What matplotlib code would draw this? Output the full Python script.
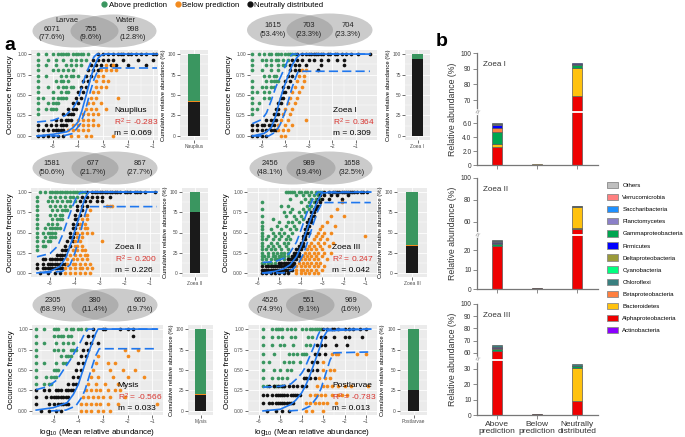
import numpy as np
import matplotlib.pyplot as plt
from matplotlib.patches import Ellipse, Patch
from matplotlib.lines import Line2D

plt.rcParams['font.family'] = ['Liberation Sans', 'DejaVu Sans']
plt.rcParams['mathtext.fontset'] = 'custom'
plt.rcParams['mathtext.rm'] = 'Liberation Sans'
plt.rcParams['mathtext.it'] = 'Liberation Sans:italic'

W, H = 685, 437
GREEN, ORANGE, BLACK, BLUE, RED = '#3A9660', '#F28A1E', '#111111', '#1F77EE', '#D8332E'

# ---- panel a data: occurrence level (count) -> log10 mean abundance values ----
stages = ['Nauplius', 'Zoea I', 'Zoea II', 'Zoea III', 'Mysis', 'Postlarvae']
n_samples = [15, 15, 18, 24, 12, 10]
r2_vals = ['-0.283', '0.364', '0.200', '0.247', '-0.566', '-0.783']
m_vals = ['0.069', '0.309', '0.226', '0.042', '0.033', '0.013']

naup_above = {15: [-5.6, -5.3, -5.0, -4.8, -4.7, -4.6, -4.5, -4.4, -4.2, -4.1, -4.0, -3.9, -3.8, -3.6],
              14: [-5.6, -5.2, -4.9, -4.6, -4.3, -4.1, -3.9, -3.7], 13: [-5.6, -5.3, -4.9, -4.5, -4.3, -4.1, -3.9],
              12: [-5.6, -5.0, -4.8, -4.6, -4.4, -4.2], 11: [-5.6, -5.3, -4.7, -4.5, -4.3, -4.2, -4.0],
              10: [-5.6, -4.9, -4.7, -4.6, -4.4], 9: [-5.6, -5.2, -4.8, -4.6, -4.5, -4.3, -4.2],
              8: [-5.6, -5.0, -4.7, -4.5, -4.4], 7: [-5.6, -5.4, -5.0, -4.8, -4.7, -4.6, -4.5],
              6: [-5.6, -5.2, -5.0, -4.9, -4.8], 5: [-5.6, -5.3, -5.1, -5.0, -4.9], 4: [-5.6]}
naup_neutral = {15: [-3.2, -3.0, -2.8, -2.6, -2.4, -2.3, -2.2, -2.0, -1.9, -1.7, -1.5, -1.3, -1.0, -0.9],
                14: [-3.4, -3.2, -3.0, -2.8, -2.6, -2.2, -1.6, -1.0], 13: [-3.5, -3.3, -3.1, -2.7, -2.5, -2.0, -1.3],
                12: [-3.6, -3.4, -3.2], 11: [-3.7, -3.5], 10: [-3.8, -3.6], 9: [-3.9, -3.7], 8: [-4.0, -3.8],
                7: [-4.1, -3.9], 6: [-4.2, -4.0], 5: [-4.4, -4.2, -4.1], 4: [-4.6, -4.4, -4.3, -4.2],
                3: [-4.9, -4.7, -4.5, -4.4, -4.3], 2: [-5.6, -5.3, -5.1, -4.9, -4.7, -4.6, -4.5],
                1: [-5.6, -5.4, -5.2, -5.0, -4.9, -4.8, -4.7, -4.6], 0: [-5.6, -5.4, -5.2, -5.0, -4.8, -4.6]}
naup_below = {13: [-2.9, -2.6], 12: [-3.1, -2.9, -2.7, -2.5], 11: [-3.2, -3.0], 10: [-3.3, -3.0, -2.8],
              9: [-3.3, -3.1, -2.9], 8: [-3.4, -3.2], 7: [-3.5, -3.3, -2.4], 6: [-3.6, -3.4, -3.1],
              5: [-3.7, -3.5, -3.3, -2.9], 4: [-3.8, -3.6, -3.4, -3.2], 3: [-4.0, -3.8, -3.6, -3.4],
              2: [-4.2, -4.0, -3.8, -3.6, -3.4, -3.2], 1: [-4.4, -4.2, -4.0, -3.8, -3.6], 0: [-4.3, -4.0, -3.7, -3.5, -2.6]}

z1_above = {15: [-5.4, -5.1, -4.9, -4.7, -4.6, -4.4, -4.3, -4.2, -4.0, -3.9, -3.8, -3.7, -3.6],
            14: [-5.4, -5.0, -4.8, -4.6, -4.4, -4.3, -4.1, -3.9], 13: [-5.4, -4.8, -4.6, -4.3, -4.1, -4.0],
            12: [-5.4, -5.0, -4.6, -4.3], 11: [-4.9, -4.7, -4.5, -4.4], 10: [-5.4, -4.8, -4.6, -4.5, -4.4, -4.3],
            9: [-5.4, -5.0, -4.8, -4.6, -4.5], 8: [-5.4, -5.2, -4.9, -4.7], 7: [-5.4, -4.9, -4.7],
            6: [-5.4, -5.1], 5: [-5.4, -5.2], 4: [-5.4]}
z1_neutral = {15: [-3.5, -3.3, -3.1, -3.0, -2.9, -2.8, -2.7, -2.6, -2.5, -2.4, -2.2, -2.1, -1.9, -1.8, -1.6, -1.4, -1.2, -0.9, -0.4],
              14: [-3.7, -3.5, -3.3, -3.0, -2.8, -2.5, -2.2, -1.8, -1.5], 13: [-3.8, -3.6, -3.4, -3.1, -2.5, -1.5],
              12: [-3.8, -3.6, -3.4, -2.6], 11: [-3.9, -3.7], 10: [-4.0, -3.8], 9: [-4.1, -3.9], 8: [-4.1, -4.0],
              7: [-4.2, -4.1], 6: [-4.3, -4.2], 5: [-4.4, -4.3], 4: [-4.5, -4.4, -4.3], 3: [-4.8, -4.6, -4.5, -4.4],
              2: [-5.4, -5.2, -5.0, -4.9, -4.7, -4.6, -4.5], 1: [-5.4, -5.2, -5.0, -4.8, -4.6, -4.5, -4.4],
              0: [-5.4, -5.2, -5.0, -4.8]}
z1_below = {12: [-3.3, -3.1], 11: [-3.4, -3.2], 10: [-3.5, -3.2], 9: [-3.6, -3.3], 8: [-3.7, -3.4],
            7: [-3.8, -3.5], 6: [-3.9, -3.6], 5: [-4.0, -3.7], 4: [-4.1, -3.8], 3: [-4.2, -3.9, -3.1],
            2: [-4.3, -4.0, -3.7], 1: [-4.3, -4.1, -3.9], 0: [-4.2, -4.0]}

z2_above = {18: [-5.4, -5.2, -5.0, -4.9, -4.8, -4.7, -4.6, -4.5, -4.4, -4.3, -4.2, -4.1, -4.0, -3.9, -3.8, -3.7, -3.6],
            17: [-5.52, -5.0, -4.8, -4.6, -4.4, -4.2, -4.1, -3.9], 16: [-5.52, -5.1, -4.9, -4.7, -4.5, -4.3, -4.2, -4.0],
            15: [-5.52, -5.0, -4.8, -4.6, -4.4, -4.2], 14: [-5.52, -4.9, -4.7, -4.5, -4.4, -4.3],
            13: [-5.52, -5.0, -4.8, -4.6, -4.5], 12: [-5.52, -4.9, -4.7, -4.6, -4.5], 11: [-5.52, -5.1, -4.9, -4.7],
            10: [-5.52, -5.2, -5.0, -4.9, -4.8, -4.7, -4.6], 9: [-5.52, -5.3, -5.1, -5.0, -4.9, -4.8],
            8: [-5.52, -5.2, -5.0, -4.9, -4.8], 7: [-5.52, -5.3, -5.1, -5.0], 6: [-5.52, -5.3, -5.2], 5: [-5.52]}
z2_neutral = {18: [-3.5, -3.3, -3.2, -3.1, -3.0, -2.9, -2.8, -2.7, -2.6, -2.5, -2.4, -2.3, -2.2, -2.0, -1.9, -1.8, -1.6, -1.5, -1.4, -1.2, -0.8],
              17: [-3.7, -3.5, -3.3, -3.1, -2.9, -2.6], 16: [-3.8, -3.6, -3.4, -3.1, -2.9], 15: [-3.9, -3.7, -3.5],
              14: [-3.9, -3.7], 13: [-4.0, -3.8], 12: [-4.0, -3.9], 11: [-4.1, -3.9], 10: [-4.1, -4.0],
              9: [-4.2, -4.0], 8: [-4.2, -4.1], 7: [-4.3, -4.1], 6: [-4.4, -4.2], 5: [-4.5, -4.4, -4.3],
              4: [-4.7, -4.6, -4.5, -4.4], 3: [-5.3, -5.2, -5.0, -4.9, -4.8, -4.7, -4.6, -4.5],
              2: [-5.52, -5.3, -5.1, -5.0, -4.9, -4.8, -4.7, -4.6, -4.5, -4.4],
              1: [-5.52, -5.3, -5.2, -5.1, -5.0, -4.9, -4.8, -4.7, -4.6, -4.5], 0: [-5.4, -5.1, -4.8, -4.6]}
z2_below = {15: [-2.7, -2.6, -2.5], 14: [-3.4], 13: [-3.6, -3.5], 12: [-3.7, -3.5], 11: [-3.8, -3.6],
            10: [-3.8, -3.6, -3.5], 9: [-3.9, -3.7, -3.5, -3.3], 8: [-3.9, -3.7], 7: [-4.0, -3.8, -2.9],
            6: [-4.0, -3.9, -3.7], 5: [-4.1, -3.9, -3.7, -3.6], 4: [-4.2, -4.0, -3.8, -3.6, -3.5],
            3: [-4.3, -4.1, -3.9, -3.7, -3.5], 2: [-4.3, -4.1, -4.0, -3.8, -3.6, -3.4],
            1: [-4.4, -4.2, -4.0, -3.8, -3.7, -3.5, -3.3], 0: [-4.4, -4.2, -4.0, -3.8, -3.6, -3.4]}

z3_above = {24: [-4.7, -4.6, -4.5, -4.4, -4.3, -4.1, -4.0, -3.8, -3.7, -3.5, -3.3, -3.2, -3.1, -3.0],
            23: [-4.2, -3.9, -3.6, -3.4, -3.2], 22: [-4.5, -3.8, -3.5, -3.3, -3.1], 21: [-5.8, -4.0, -3.6, -3.4],
            20: [-4.9, -4.6, -3.7, -3.5], 19: [-5.8, -4.4, -3.9, -3.6], 18: [-4.8, -4.5, -4.1, -3.8],
            17: [-5.8, -4.7, -4.3, -4.0], 16: [-5.3, -4.2, -3.9], 15: [-5.8, -5.0, -4.6, -4.4, -4.1],
            14: [-5.8, -5.1, -4.7, -4.3], 13: [-5.8, -5.4, -4.9, -4.5, -4.2], 12: [-5.8, -5.3, -5.0, -4.8, -4.4],
            11: [-5.8, -5.5, -5.2, -4.9, -4.6], 10: [-5.8, -5.6, -5.3, -5.0, -4.7, -4.5],
            9: [-5.8, -5.4, -5.1, -4.8, -4.6], 8: [-5.8, -5.5, -5.3, -5.0, -4.7],
            7: [-5.8, -5.6, -5.4, -5.2, -4.9, -4.6], 6: [-5.8, -5.5, -5.3, -5.1, -4.9, -4.8, -4.6],
            5: [-5.8, -5.7, -5.5, -5.3, -5.2, -5.0, -4.9, -4.8, -4.6], 4: [-5.8, -5.6, -5.4, -5.2, -5.1, -5.0, -4.8],
            3: [-5.8, -5.7, -5.5, -5.4, -5.2]}
z3_neutral = {24: [-2.9, -2.7, -2.5, -2.4, -2.3, -2.2, -2.1, -2.0, -1.9, -1.8, -1.7, -1.6, -1.5, -1.4, -1.2, -1.1, -0.9],
              23: [-3.1, -2.9, -2.6, -2.3, -1.8], 22: [-3.2, -3.0, -2.7, -2.1], 21: [-3.3, -3.1], 20: [-3.3, -3.2],
              19: [-3.4, -3.3], 18: [-3.5, -3.4], 17: [-3.5, -3.4], 16: [-3.6, -3.5], 15: [-3.7, -3.5],
              14: [-3.7, -3.6], 13: [-3.8, -3.7], 12: [-3.8, -3.7, -3.6], 11: [-3.9, -3.8], 10: [-3.9, -3.8],
              9: [-4.0, -3.9], 8: [-4.1, -4.0, -3.9], 7: [-4.2, -4.1, -4.0], 6: [-4.3, -4.2, -4.1],
              5: [-4.4, -4.3, -4.2, -4.1], 4: [-4.6, -4.5, -4.4, -4.3, -4.2],
              3: [-5.0, -4.9, -4.8, -4.7, -4.6, -4.5, -4.4, -4.3],
              2: [-5.8, -5.6, -5.5, -5.4, -5.3, -5.2, -5.1, -5.0, -4.9, -4.8, -4.7, -4.6, -4.5, -4.4, -4.3],
              1: [-5.8, -5.7, -5.6, -5.5, -5.4, -5.3, -5.2, -5.1, -5.0, -4.9, -4.8, -4.7, -4.6, -4.5, -4.4],
              0: [-5.8, -5.6, -5.4, -5.2, -5.0, -4.8, -4.6]}
z3_below = {21: [-2.1], 19: [-2.3], 17: [-2.6, -2.0], 15: [-2.8], 14: [-3.0, -2.4], 13: [-3.1],
            12: [-3.2, -2.9, -2.6], 11: [-3.3, -3.0, -1.0], 10: [-3.4, -3.1, -2.8], 9: [-3.5, -3.2, -2.9, -2.5],
            8: [-3.6, -3.4, -3.1, -2.7], 7: [-3.7, -3.5, -3.3, -3.0], 6: [-3.8, -3.6, -3.4, -3.2, -2.9, -2.6],
            5: [-3.9, -3.7, -3.5, -3.3, -3.0], 4: [-4.0, -3.8, -3.6, -3.4, -3.2, -2.8],
            3: [-4.1, -3.9, -3.7, -3.5, -3.3, -3.1], 2: [-4.2, -4.0, -3.8, -3.6, -3.4, -3.2, -2.9],
            1: [-4.2, -4.0, -3.9, -3.7, -3.5, -3.3, -3.0], 0: [-4.2, -4.0, -3.8, -3.6, -3.4, -3.2]}

mys_above = {12: [-5.7, -5.4, -5.0, -4.9, -4.8, -4.5, -4.3, -4.2, -4.0, -3.9, -3.7],
             11: [-5.7, -5.0, -4.8, -4.7, -4.6, -4.4, -4.3], 10: [-5.7, -5.4, -4.9, -4.6, -4.4, -4.2],
             9: [-5.7, -5.0, -4.8, -4.6, -4.3, -4.2, -4.1], 8: [-5.7, -4.7, -4.5, -4.4, -4.3],
             7: [-5.7, -5.4, -4.9, -4.6, -4.5], 6: [-5.7, -5.0, -4.9, -4.8], 5: [-5.7, -5.3, -5.1, -5.0, -4.9],
             4: [-5.7, -5.4, -5.2, -5.1]}
mys_neutral = {12: [-3.4, -3.0, -2.9, -2.3, -2.0, -1.8], 11: [-3.6, -3.4, -1.8], 10: [-3.7, -3.5, -3.2],
               9: [-3.8, -3.6], 8: [-3.9, -3.7], 7: [-4.0, -3.8], 6: [-4.1, -3.9], 5: [-4.2, -4.0],
               4: [-4.4, -4.2, -4.1], 3: [-5.7, -5.4, -5.2, -4.9, -4.8, -4.7, -4.5, -4.4, -4.3, -4.2],
               2: [-5.7, -5.3, -5.1, -5.0, -4.9, -4.8, -4.7, -4.6, -4.5, -4.4],
               1: [-5.7, -5.2, -5.0, -4.8, -4.7, -4.6, -4.5, -4.4], 0: [-5.5, -5.2, -4.9, -4.7]}
mys_below = {9: [-2.1, -1.6], 8: [-3.2, -2.0], 7: [-3.3, -2.8, -2.5], 6: [-3.4, -2.7, -2.2, -1.7],
             5: [-3.5, -3.2, -2.6, -2.0, -1.35], 4: [-3.6, -3.3, -2.9, -2.4],
             3: [-3.7, -3.5, -3.3, -3.1, -2.8, -2.5, -2.3], 2: [-3.8, -3.6, -3.4, -3.2, -3.0, -2.7, -2.1],
             1: [-3.9, -3.7, -3.5, -3.3, -3.1, -2.8, -2.4, -0.8], 0: [-3.9, -3.7, -3.5, -3.2, -3.0, -2.7]}

post_above = {10: [-5.8, -5.4, -5.2, -5.1, -5.0, -4.9, -4.7, -4.5, -4.3, -4.0, -3.8, -3.6, -3.5, -3.4, -3.3, -3.2, -3.1],
              9: [-5.8, -5.4, -5.1, -4.9, -4.5, -4.3, -3.7, -3.5], 8: [-5.8, -5.4, -5.0, -4.8, -4.4, -3.8, -3.6],
              7: [-5.8, -5.3, -4.6, -4.4, -4.2, -4.0, -3.9, -3.8], 6: [-5.8, -5.5, -4.8, -4.6, -4.4, -4.1],
              5: [-5.8, -5.3, -5.0, -4.7, -4.5], 4: [-5.8, -5.4, -5.1, -4.9, -4.7],
              3: [-5.8, -5.6, -5.3, -5.2, -5.0, -4.9, -4.8]}
post_neutral = {10: [-3.0, -2.8, -2.6, -2.5, -2.3, -2.0, -1.8, -1.6, -1.3, -1.0], 9: [-3.1, -2.9, -2.5, -2.0, -1.8, -1.2],
                8: [-3.3, -3.1, -2.9, -2.4, -1.9], 7: [-3.4, -3.2, -2.9], 6: [-3.5, -3.3], 5: [-3.7, -3.5, -3.3],
                4: [-3.9, -3.8, -3.6, -3.4], 3: [-5.5, -5.3, -5.1, -4.9, -4.8, -4.6, -4.4, -4.2, -4.0, -3.8],
                2: [-5.8, -5.6, -5.4, -5.2, -5.1, -5.0, -4.9, -4.8, -4.7, -4.5, -4.4, -4.3, -4.2, -4.1],
                1: [-5.8, -5.5, -5.4, -5.2, -5.1, -5.0, -4.9, -4.8, -4.7, -4.6, -4.5, -4.4], 0: [-5.6, -5.2, -4.9, -4.6]}
post_below = {7: [-2.6, -2.4, -2.3, -1.4, -1.0], 6: [-3.0], 5: [-3.0, -2.7, -2.5], 4: [-3.2, -2.9, -2.7],
              3: [-3.3, -3.0, -2.8, -2.6, -2.3, -2.0, -1.7, -0.9], 2: [-3.6, -3.4, -3.3, -3.1, -2.9, -2.6, -2.3, -2.1, -1.9],
              1: [-3.8, -3.6, -3.4, -3.2, -3.0, -2.8, -2.4], 0: [-3.8, -3.5, -3.0]}

# neutral model fit and 95% interval: (x list, y list)
naup_fit = ([-5.64, -5.0, -4.45, -4.2, -4.0, -3.85, -3.68, -3.5, -3.35, -3.2, -3.05, -2.9, -0.8],
            [0.0, 0.02, 0.05, 0.1, 0.17, 0.3, 0.49, 0.7, 0.85, 0.95, 0.99, 1.0, 1.0])
naup_up = ([-5.64, -5.0, -4.5, -4.2, -4.0, -3.8, -3.65, -3.5, -3.35, -3.24, -0.8],
           [0.17, 0.19, 0.25, 0.34, 0.44, 0.65, 0.78, 0.89, 0.97, 1.0, 1.0])
naup_lo = ([-5.64, -4.6, -4.2, -3.9, -3.7, -3.5, -3.35, -3.2, -3.1, -0.84],
           [0.0, 0.0, 0.03, 0.15, 0.32, 0.55, 0.7, 0.8, 0.83, 0.83])
z1_fit = ([-5.4, -4.9, -4.6, -4.4, -4.23, -4.05, -3.9, -3.7, -3.5, -3.35, -0.4],
          [0.0, 0.03, 0.1, 0.25, 0.44, 0.6, 0.72, 0.87, 0.96, 1.0, 1.0])
z1_up = ([-5.4, -5.0, -4.8, -4.6, -4.4, -4.2, -4.0, -3.85, -3.7, -0.4],
         [0.15, 0.2, 0.28, 0.43, 0.6, 0.72, 0.85, 0.95, 1.0, 1.0])
z1_lo = ([-5.4, -4.7, -4.4, -4.2, -4.0, -3.85, -3.7, -3.55, -3.45, -0.4],
         [0.0, 0.0, 0.05, 0.15, 0.3, 0.45, 0.6, 0.72, 0.79, 0.79])
z2_fit = ([-5.52, -5.0, -4.6, -4.35, -4.15, -4.0, -3.85, -3.72, -3.6, -3.45, -0.72],
          [0.0, 0.02, 0.08, 0.2, 0.38, 0.53, 0.68, 0.81, 0.93, 1.0, 1.0])
z2_up = ([-5.52, -5.0, -4.7, -4.5, -4.3, -4.1, -3.95, -3.8, -3.7, -0.72],
         [0.2, 0.24, 0.33, 0.47, 0.65, 0.82, 0.93, 0.99, 1.0, 1.0])
z2_lo = ([-5.3, -4.5, -4.2, -4.0, -3.85, -3.7, -3.6, -3.5, -0.72],
         [0.0, 0.02, 0.1, 0.25, 0.42, 0.6, 0.72, 0.82, 0.82])
z3_fit = ([-5.77, -5.2, -4.8, -4.5, -4.2, -3.95, -3.72, -3.55, -3.4, -3.2, -3.0, -0.74],
          [0.0, 0.02, 0.05, 0.1, 0.2, 0.35, 0.53, 0.66, 0.77, 0.9, 0.99, 1.0])
z3_up = ([-5.77, -5.2, -4.8, -4.5, -4.2, -4.0, -3.8, -3.6, -3.4, -3.2, -0.74],
         [0.13, 0.14, 0.18, 0.25, 0.38, 0.52, 0.68, 0.82, 0.93, 1.0, 1.0])
z3_lo = ([-5.77, -4.8, -4.4, -4.1, -3.85, -3.6, -3.4, -3.2, -3.0, -0.74],
         [0.0, 0.0, 0.04, 0.12, 0.25, 0.45, 0.62, 0.77, 0.87, 0.87])
mys_fit = ([-5.7, -5.0, -4.45, -4.2, -4.0, -3.85, -3.72, -3.58, -3.44, -3.3, -3.2, -0.8],
           [0.01, 0.04, 0.1, 0.2, 0.32, 0.46, 0.58, 0.71, 0.83, 0.94, 1.0, 1.0])
mys_up = ([-5.7, -5.2, -4.86, -4.6, -4.33, -4.1, -3.93, -3.75, -3.6, -0.8],
          [0.26, 0.3, 0.38, 0.5, 0.62, 0.74, 0.83, 0.94, 1.0, 1.0])
mys_lo = ([-5.1, -4.5, -4.1, -3.85, -3.72, -3.58, -3.44, -3.3, -3.15, -0.8],
          [0.0, 0.01, 0.06, 0.17, 0.26, 0.4, 0.54, 0.67, 0.76, 0.76])
post_fit = ([-5.8, -5.0, -4.5, -4.28, -4.0, -3.8, -3.65, -3.5, -3.31, -3.15, -3.02, -2.8, -0.78],
            [0.0, 0.02, 0.08, 0.13, 0.22, 0.32, 0.41, 0.52, 0.66, 0.78, 0.89, 0.98, 1.0])
post_up = ([-5.8, -5.0, -4.5, -4.2, -4.0, -3.86, -3.65, -3.44, -3.25, -3.1, -0.78],
           [0.29, 0.3, 0.33, 0.4, 0.46, 0.52, 0.65, 0.78, 0.92, 1.0, 1.0])
post_lo = ([-4.6, -4.0, -3.6, -3.3, -3.1, -2.97, -2.8, -2.68, -2.5, -0.9],
           [0.0, 0.01, 0.06, 0.16, 0.27, 0.38, 0.52, 0.62, 0.71, 0.72])

# cumulative relative abundance (%): neutral, below, above
cum_neutral = [42, 93.5, 75, 33.2, 20, 25.5]
cum_below = [1, 0.3, 0.6, 0.8, 1, 0.6]
cum_above = [57, 6.2, 24.4, 66.0, 79, 73.9]

# venn counts: larvae only, shared, water only
venn_counts = [(6071, 755, 998), (1615, 703, 704), (1581, 677, 867),
               (2456, 989, 1658), (2305, 380, 660), (4526, 551, 969)]
venn_pct = [('77.6%', '9.6%', '12.8%'), ('53.4%', '23.3%', '23.3%'), ('50.6%', '21.7%', '27.7%'),
            ('48.1%', '19.4%', '32.5%'), ('68.9%', '11.4%', '19.7%'), ('74.9%', '9.1%', '16%')]

# ---- panel b data ----
taxa = ['Others', 'Verrucomicrobia', 'Saccharibacteria', 'Planctomycetes', 'Gammaproteobacteria',
        'Firmicutes', 'Deltaproteobacteria', 'Cyanobacteria', 'Chloroflexi', 'Betaproteobacteria',
        'Bacteroidetes', 'Alphaproteobacteria', 'Actinobacteria']
taxa_colors = ['#BFBFBF', '#FF8080', '#1E90FF', '#8B80C8', '#00A550', '#0000FF', '#9A9A3A',
               '#00FF7F', '#3A8080', '#FF7F3F', '#FFC20E', '#EE0000', '#8B00FF']
groups = ['Above\nprediction', 'Below\nprediction', 'Neutrally\ndistributed']
b_stages = ['Zoea I', 'Zoea II', 'Zoea III']
zoea1_bars = [[('Alphaproteobacteria', 2.6), ('Bacteroidetes', 0.4), ('Gammaproteobacteria', 1.7),
               ('Betaproteobacteria', 0.6), ('Firmicutes', 0.4), ('Planctomycetes', 0.2), ('Chloroflexi', 0.15)],
              [('Alphaproteobacteria', 0.05), ('Bacteroidetes', 0.05)],
              [('Alphaproteobacteria', 72.6), ('Bacteroidetes', 17.9), ('Gammaproteobacteria', 2.0),
               ('Chloroflexi', 0.6), ('Firmicutes', 0.3)]]
zoea2_bars = [[('Alphaproteobacteria', 22.3), ('Gammaproteobacteria', 0.7), ('Chloroflexi', 0.4),
               ('Firmicutes', 0.5), ('Planctomycetes', 0.5), ('Chloroflexi', 0.5)],
              [('Alphaproteobacteria', 0.3), ('Bacteroidetes', 0.3)],
              [('Alphaproteobacteria', 53.5), ('Deltaproteobacteria', 0.7), ('Bacteroidetes', 19.8),
               ('Chloroflexi', 0.6), ('Gammaproteobacteria', 0.4)]]
zoea3_bars = [[('Alphaproteobacteria', 61.8), ('Gammaproteobacteria', 1.0), ('Deltaproteobacteria', 0.8),
               ('Planctomycetes', 0.7), ('Actinobacteria', 0.3), ('Chloroflexi', 1.6)],
              [('Alphaproteobacteria', 0.4), ('Deltaproteobacteria', 0.4)],
              [('Alphaproteobacteria', 9.2), ('Bacteroidetes', 21.0), ('Gammaproteobacteria', 1.2),
               ('Chloroflexi', 0.5), ('Chloroflexi', 1.3)]]

fig = plt.figure(figsize=(6.85, 4.37), dpi=100)


def box(x0, y0, x1, y1):
    return [x0 / W, 1 - y1 / H, (x1 - x0) / W, (y1 - y0) / H]


def ggplot_axes(ax):
    ax.set_facecolor('#EBEBEB')
    for s in ax.spines.values():
        s.set_visible(False)
    ax.grid(True, which='major', color='white', lw=0.6)
    ax.grid(True, which='minor', color='white', lw=0.3)
    ax.set_axisbelow(True)
    ax.tick_params(which='major', length=2, width=0.5, color='#333333', labelsize=3.5,
                   labelcolor='#4D4D4D', pad=1)
    ax.tick_params(which='minor', length=0)


def scatter_panel(i, rect, above, neutral, below, fit, up, lo, xlim, xticks, xlabel):
    ax = fig.add_axes(box(*rect))
    ggplot_axes(ax)
    n = n_samples[i]
    for rows, col in [(above, GREEN), (neutral, BLACK), (below, ORANGE)]:
        xs = [x for k, v in rows.items() for x in v]
        ys = [k / n for k, v in rows.items() for x in v]
        ax.scatter(xs, ys, s=7, c=col, lw=0, zorder=3)
    ax.plot(*fit, color=BLUE, lw=1.2, zorder=4)
    ax.plot(*up, color=BLUE, lw=1.2, ls=(0, (5.5, 2.5)), zorder=4)
    ax.plot(*lo, color=BLUE, lw=1.2, ls=(0, (5.5, 2.5)), zorder=4)
    ax.set_xlim(*xlim)
    ax.set_ylim(-0.05, 1.05)
    ax.set_xticks(xticks)
    ax.set_xticks([t + 0.5 for t in xticks[:-1]] + [xticks[0] - 0.5], minor=True)
    ax.set_yticks([0, 0.25, 0.5, 0.75, 1.0])
    ax.set_yticks([0.125, 0.375, 0.625, 0.875], minor=True)
    ax.set_yticklabels(['0.00', '0.25', '0.50', '0.75', '1.00'])
    ax.set_ylabel('Occurrence frequency', fontsize=5.8, labelpad=2)
    if xlabel:
        ax.set_xlabel(r'log$_{10}$ (Mean relative abundance)', fontsize=5.8, labelpad=2)
    ax.text(0.655, 0.33, stages[i], transform=ax.transAxes, fontsize=6, va='center')
    ax.text(0.655, 0.2, r'R$^2$ = ' + r2_vals[i], transform=ax.transAxes, fontsize=6,
            va='center', color=RED)
    ax.text(0.655, 0.075, 'm = ' + m_vals[i], transform=ax.transAxes, fontsize=6, va='center')


def cum_panel(i, rect):
    ax = fig.add_axes(box(*rect))
    ggplot_axes(ax)
    ax.bar(1, cum_neutral[i], width=0.5, color='#1A1A1A')
    ax.bar(1, cum_below[i], bottom=cum_neutral[i], width=0.5, color=ORANGE)
    ax.bar(1, cum_above[i], bottom=cum_neutral[i] + cum_below[i], width=0.5, color=GREEN)
    ax.set_xlim(0.4, 1.6)
    ax.set_ylim(-5, 105)
    ax.set_xticks([1])
    ax.set_xticklabels([stages[i]])
    ax.set_yticks([0, 25, 50, 75, 100])
    ax.set_yticks([12.5, 37.5, 62.5, 87.5], minor=True)
    ax.set_ylabel('Cumulative relative abundance (%)', fontsize=4.2, labelpad=1.5)


scatter_panel(0, (31, 50, 158, 140), naup_above, naup_neutral, naup_below, naup_fit, naup_up, naup_lo,
              (-5.88, -0.8), [-5, -4, -3, -2, -1], False)
scatter_panel(1, (250, 50, 377, 140), z1_above, z1_neutral, z1_below, z1_fit, z1_up, z1_lo,
              (-5.5, -0.1), [-5, -4, -3, -2, -1], False)
scatter_panel(2, (31, 188, 160, 277), z2_above, z2_neutral, z2_below, z2_fit, z2_up, z2_lo,
              (-5.76, -0.6), [-5, -4, -3, -2, -1], False)
scatter_panel(3, (247, 188, 377, 277), z3_above, z3_neutral, z3_below, z3_fit, z3_up, z3_lo,
              (-5.98, -0.45), [-6, -5, -4, -3, -2, -1], False)
scatter_panel(4, (32, 325, 163, 415), mys_above, mys_neutral, mys_below, mys_fit, mys_up, mys_lo,
              (-5.87, -0.57), [-5, -4, -3, -2, -1], True)
scatter_panel(5, (248, 325, 377, 415), post_above, post_neutral, post_below, post_fit, post_up, post_lo,
              (-5.93, -0.49), [-6, -5, -4, -3, -2, -1], True)

cum_rects = [(180, 50, 208, 140), (405, 50, 430, 140), (182, 188, 208, 277),
             (397, 188, 427, 277), (188, 325, 213, 415), (400, 325, 427, 415)]
for i, r in enumerate(cum_rects):
    cum_panel(i, r)

# venn diagrams drawn on a full-figure overlay in pixel units
ov = fig.add_axes([0, 0, 1, 1])
ov.set_xlim(0, W)
ov.set_ylim(H, 0)
ov.axis('off')
ov.set_zorder(-1)
venn_layout = [(75.5, 113.5, 31, (52, 91, 133)), (290, 329.5, 30, (273, 309, 348)),
               (75.5, 114.5, 168, (52, 93, 140)), (292.5, 329.5, 168, (270, 309, 352)),
               (75.5, 114.5, 305, (53, 95, 140)), (291.5, 329, 305, (270, 309, 351))]
for j, ((cl, cr, cy, tx), counts, pct) in enumerate(zip(venn_layout, venn_counts, venn_pct)):
    for cx in (cl, cr):
        ov.add_patch(Ellipse((cx, cy), 86, 33, color='#8C8C8C', alpha=0.45, lw=0))
    for x, c, p in zip(tx, counts, pct):
        ov.text(x, cy + 2.5 if j == 0 else cy, f'{c}\n({p})', ha='center',
                va='center', fontsize=5.4, linespacing=1.25, color='#222222')
ov.text(67, 21, 'Larvae', ha='center', va='center', fontsize=5.4, color='#222222')
ov.text(126, 21, 'Water', ha='center', va='center', fontsize=5.4, color='#222222')
ov.text(4, 45, 'a', fontsize=14, fontweight='bold', va='center')
ov.text(436, 41, 'b', fontsize=14, fontweight='bold', va='center')

handles = [Line2D([], [], marker='o', ls='', color=c, markersize=3.5) for c in (GREEN, ORANGE, BLACK)]
fig.legend(handles, ['Above prediction', 'Below prediction', 'Neutrally distributed'],
           loc='center', bbox_to_anchor=(212 / W, 1 - 5 / H), ncol=3, frameon=False, fontsize=5.6,
           handletextpad=0.05, columnspacing=0.9, borderpad=0, handlelength=1.0)


# ---- panel b: broken-axis stacked bars via a piecewise linear scale ----
def abundance_panel(rect, bars, name, vals, pos, ticks, ticklabels, show_x):
    ax = fig.add_axes(box(*rect))
    ax.set_yscale('function', functions=(lambda y: np.interp(y, vals, pos),
                                         lambda p: np.interp(p, pos, vals)))
    for i, segs in enumerate(bars):
        bottom = 0
        for taxon, v in segs:
            ax.bar(i, v, bottom=bottom, width=0.25, color=taxa_colors[taxa.index(taxon)],
                   edgecolor='#5A5A5A', lw=0.5)
            bottom += v
    ax.set_ylim(0, 100)
    ax.set_xlim(-0.5, 2.52)
    brk = np.interp((pos[1] + pos[2]) / 2, pos, vals)
    ax.axhline(brk, xmin=0.03, xmax=1, color='white', lw=1.3, zorder=5)
    ax.text(0, brk, '//', transform=ax.get_yaxis_transform(), fontsize=4.5, ha='center',
            va='center', rotation=-20, color='#666666',
            bbox=dict(fc='white', ec='none', pad=0.2))
    for s in ('top', 'right'):
        ax.spines[s].set_visible(False)
    for s in ('left', 'bottom'):
        ax.spines[s].set_color('#777777')
        ax.spines[s].set_linewidth(0.9)
    ax.set_yticks(ticks)
    ax.set_yticklabels(ticklabels)
    ax.set_xticks([0, 1, 2])
    ax.set_xticklabels(groups if show_x else [])
    ax.tick_params(length=3, width=0.6, color='#777777', labelsize=4.8, labelcolor='#333333', pad=1)
    ax.tick_params(axis='x', labelsize=6, pad=1.5)
    for t in ax.get_xticklabels():
        t.set_linespacing(1.0)
    ax.set_ylabel('Relative abundance (%)', fontsize=6.3, color='#333333', labelpad=2.5)
    ax.text(0.05, 0.9, name, transform=ax.transAxes, fontsize=5.8, va='center', color='#333333')


abundance_panel((477, 53, 598, 165), zoea1_bars, b_stages[0], [0, 7, 65, 100], [0, 49, 57, 112],
                [0, 2, 4, 6, 70, 80, 90, 100], ['0', '2.0', '4.0', '6.0', '70', '80', '90', '100'], False)
abundance_panel((477, 178, 598, 289), zoea2_bars, b_stages[1], [0, 27, 50, 100], [0, 52.6, 56, 111],
                [0, 10, 20, 60, 80, 100], ['0', '10', '20', '60', '80', '100'], False)
abundance_panel((477, 304, 598, 415), zoea3_bars, b_stages[2], [0, 35.5, 55, 100], [0, 55, 56, 111],
                [0, 10, 20, 30, 60, 70, 80, 90, 100], ['0', '10', '20', '30', '60', '70', '80', '90', '100'], True)

patches = [Patch(facecolor=c, edgecolor='#8A8A8A', lw=0.6) for c in taxa_colors]
fig.legend(patches, taxa, loc='upper left', bbox_to_anchor=(607 / W, 1 - 182 / H), frameon=False,
           fontsize=4.4, handlelength=1.8, handleheight=1.2, labelspacing=0.95, handletextpad=0.7,
           borderpad=0, borderaxespad=0)

fig.savefig('out.png', dpi=100)
